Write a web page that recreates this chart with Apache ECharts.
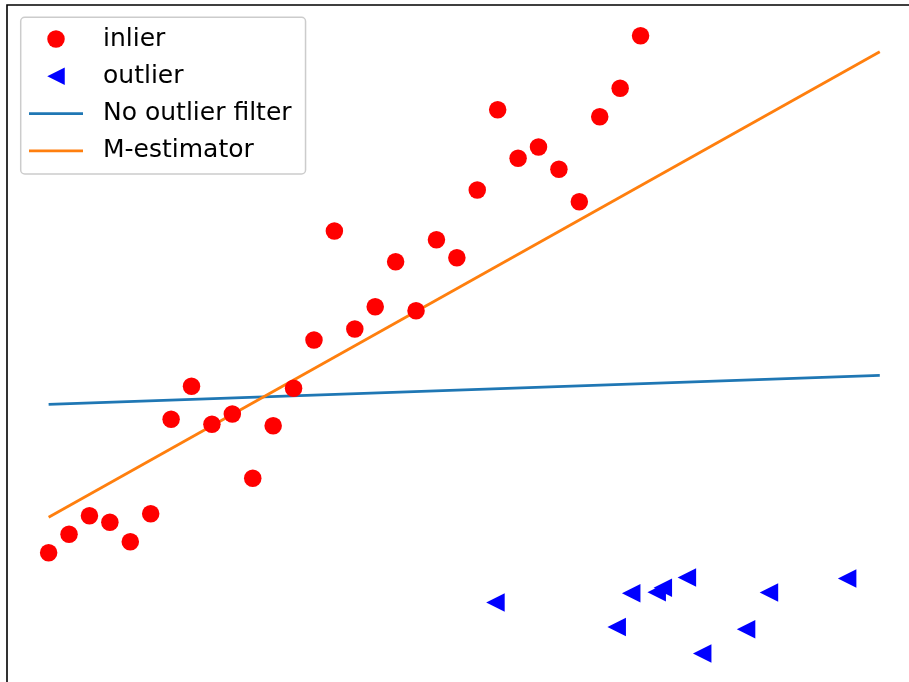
<!DOCTYPE html>
<html>
<head>
<meta charset="utf-8">
<script src="https://cdn.jsdelivr.net/npm/echarts@6/dist/echarts.min.js"></script>
<style>
  html, body { margin: 0; padding: 0; background: #fff; overflow: hidden; width: 909px; height: 682px; }
  /* the figure is larger than the window: right and bottom spines are cropped off */
  #main { width: 940px; height: 700px; }
</style>
</head>
<body>
<div id="main"></div>
<script>
const inlierX = [0, 1, 2, 3, 4, 5, 6, 7, 8, 9, 10, 11, 12, 13, 14, 15, 16, 17, 18, 19, 20, 21, 22, 23, 24, 25, 26, 27, 28, 29]
const inlierY = [13.23, 15.07, 16.93, 16.27, 14.33, 17.13, 26.57, 29.87, 26.07, 27.1, 20.67, 25.93, 29.67, 34.5, 45.4,
  35.6, 37.83, 42.33, 37.43, 44.53, 42.73, 49.5, 57.53, 52.67, 53.8, 51.57, 48.33, 56.83, 59.67, 64.93]

const outlierX = [21.89, 28.54, 29.79, 30.09, 31.27, 35.29, 39.12, 27.83, 34.17, 32.02]
const outlierY = [8.25, 9.17, 9.28, 9.72, 10.75, 9.25, 10.65, 5.8, 5.57, 3.15]

// fitted lines (start / end)
const fitX = [0, 40.72]
const plainFitY = [28.07, 30.97]
const mEstFitY = [16.77, 63.33]

const xMin = -2.04
const xMax = 42.74
const yMin = 0
const yMax = 68

const zip = (xs, ys) => xs.map((x, i) => [x, ys[i]])
const triLeft = 'path://M0,5L10,0L10,10Z'
const lineIcon = 'path://M0,0L54,0L54,2.8L0,2.8Z'

var myChart = echarts.init(document.getElementById('main'))
var option = {
  animation: false,
  grid: {
    left: 7,
    top: 5,
    width: 914,
    height: 680,
    show: true,
    borderColor: '#000',
    borderWidth: 1.6,
    backgroundColor: 'transparent',
  },
  xAxis: {
    type: 'value',
    min: xMin,
    max: xMax,
    axisLine: { show: false },
    axisTick: { show: false },
    axisLabel: { show: false },
    splitLine: { show: false },
  },
  yAxis: {
    type: 'value',
    min: yMin,
    max: yMax,
    axisLine: { show: false },
    axisTick: { show: false },
    axisLabel: { show: false },
    splitLine: { show: false },
  },
  legend: {
    left: 20.7,
    top: 17.3,
    orient: 'vertical',
    padding: [8.7, 14, 10, 8.3],
    itemWidth: 54,
    itemHeight: 17.5,
    itemGap: 11.3,
    backgroundColor: 'rgba(255,255,255,0.8)',
    borderColor: '#cccccc',
    borderWidth: 1.5,
    borderRadius: 4,
    textStyle: {
      fontFamily: 'DejaVu Sans',
      fontSize: 25,
      lineHeight: 26,
      color: '#000',
      padding: [0, 0, 0, 15],
    },
    data: [
      { name: 'inlier', icon: 'circle' },
      { name: 'outlier', icon: triLeft },
      { name: 'No outlier filter', icon: lineIcon },
      { name: 'M-estimator', icon: lineIcon },
    ],
  },
  series: [
    {
      name: 'inlier',
      type: 'scatter',
      symbol: 'circle',
      symbolSize: 17.5,
      itemStyle: { color: '#ff0000', opacity: 1 },
      data: zip(inlierX, inlierY),
      z: 3,
    },
    {
      name: 'outlier',
      type: 'scatter',
      symbol: triLeft,
      symbolSize: 18.5,
      itemStyle: { color: '#0000ff', opacity: 1 },
      data: zip(outlierX, outlierY),
      z: 3,
    },
    {
      name: 'No outlier filter',
      type: 'line',
      symbol: 'none',
      lineStyle: { color: '#1f77b4', width: 2.8 },
      itemStyle: { color: '#1f77b4' },
      data: zip(fitX, plainFitY),
      z: 2,
    },
    {
      name: 'M-estimator',
      type: 'line',
      symbol: 'none',
      lineStyle: { color: '#ff7f0e', width: 2.8 },
      itemStyle: { color: '#ff7f0e' },
      data: zip(fitX, mEstFitY),
      z: 2,
    },
  ],
}

option && myChart.setOption(option)
window.addEventListener('resize', function () {
  myChart.resize()
})
</script>
</body>
</html>
